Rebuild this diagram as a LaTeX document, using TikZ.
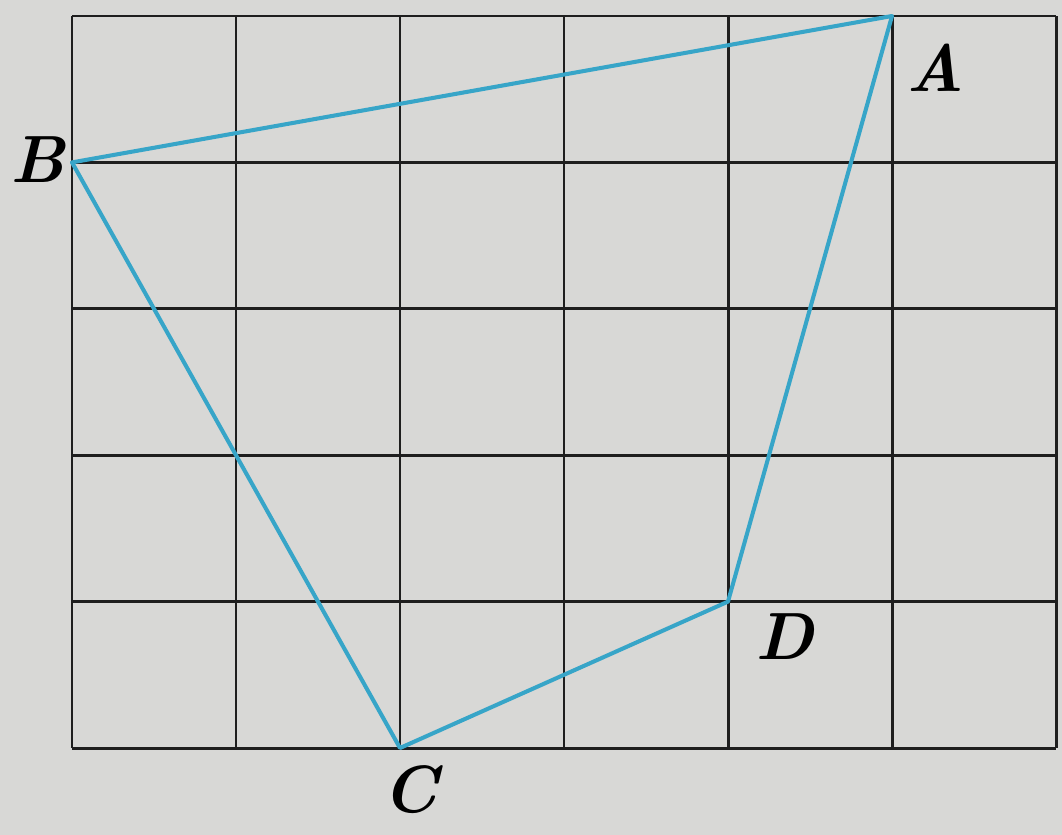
\documentclass[tikz,border=0pt]{standalone}
\usepackage{tikz}
\definecolor{paper}{RGB}{216,216,214}
\definecolor{gridc}{RGB}{30,30,30}
\definecolor{segc}{RGB}{55,165,200}
\tikzset{
  gridline/.style={draw=gridc, line width=1.7pt},
  seg/.style={draw=segc, line width=2.3pt, line join=round},
  ptlabel/.style={font=\fontsize{38}{38}\selectfont\bfseries\itshape, text=black, inner sep=0pt}
}
\begin{document}
\begin{tikzpicture}[x=0.02cm, y=-0.02cm]
\fill[paper] (0,0) rectangle (1062,835);
\useasboundingbox (0,0) rectangle (1062,835);
% grid: 6 columns x 5 rows
\foreach \i in {0,...,6} {
  \draw[gridline] ({72+164*\i},16) -- ({72+164*\i},748);
}
\foreach \j in {0,...,5} {
  \draw[gridline] (72,{16+146.4*\j}) -- (1056,{16+146.4*\j});
}
\coordinate (A) at (892,16);
\coordinate (B) at (72,162.4);
\coordinate (C) at (400,748);
\coordinate (D) at (728,601.6);
\draw[seg] (A) -- (B) -- (C) -- (D) -- cycle;
\node[ptlabel] (la) at (935,68) {A};
\node[ptlabel] (lb) at (38,160) {B};
\node[ptlabel] (lc) at (410,790) {C};
\node[ptlabel] (ld) at (785,637) {D};
\end{tikzpicture}
\end{document}
